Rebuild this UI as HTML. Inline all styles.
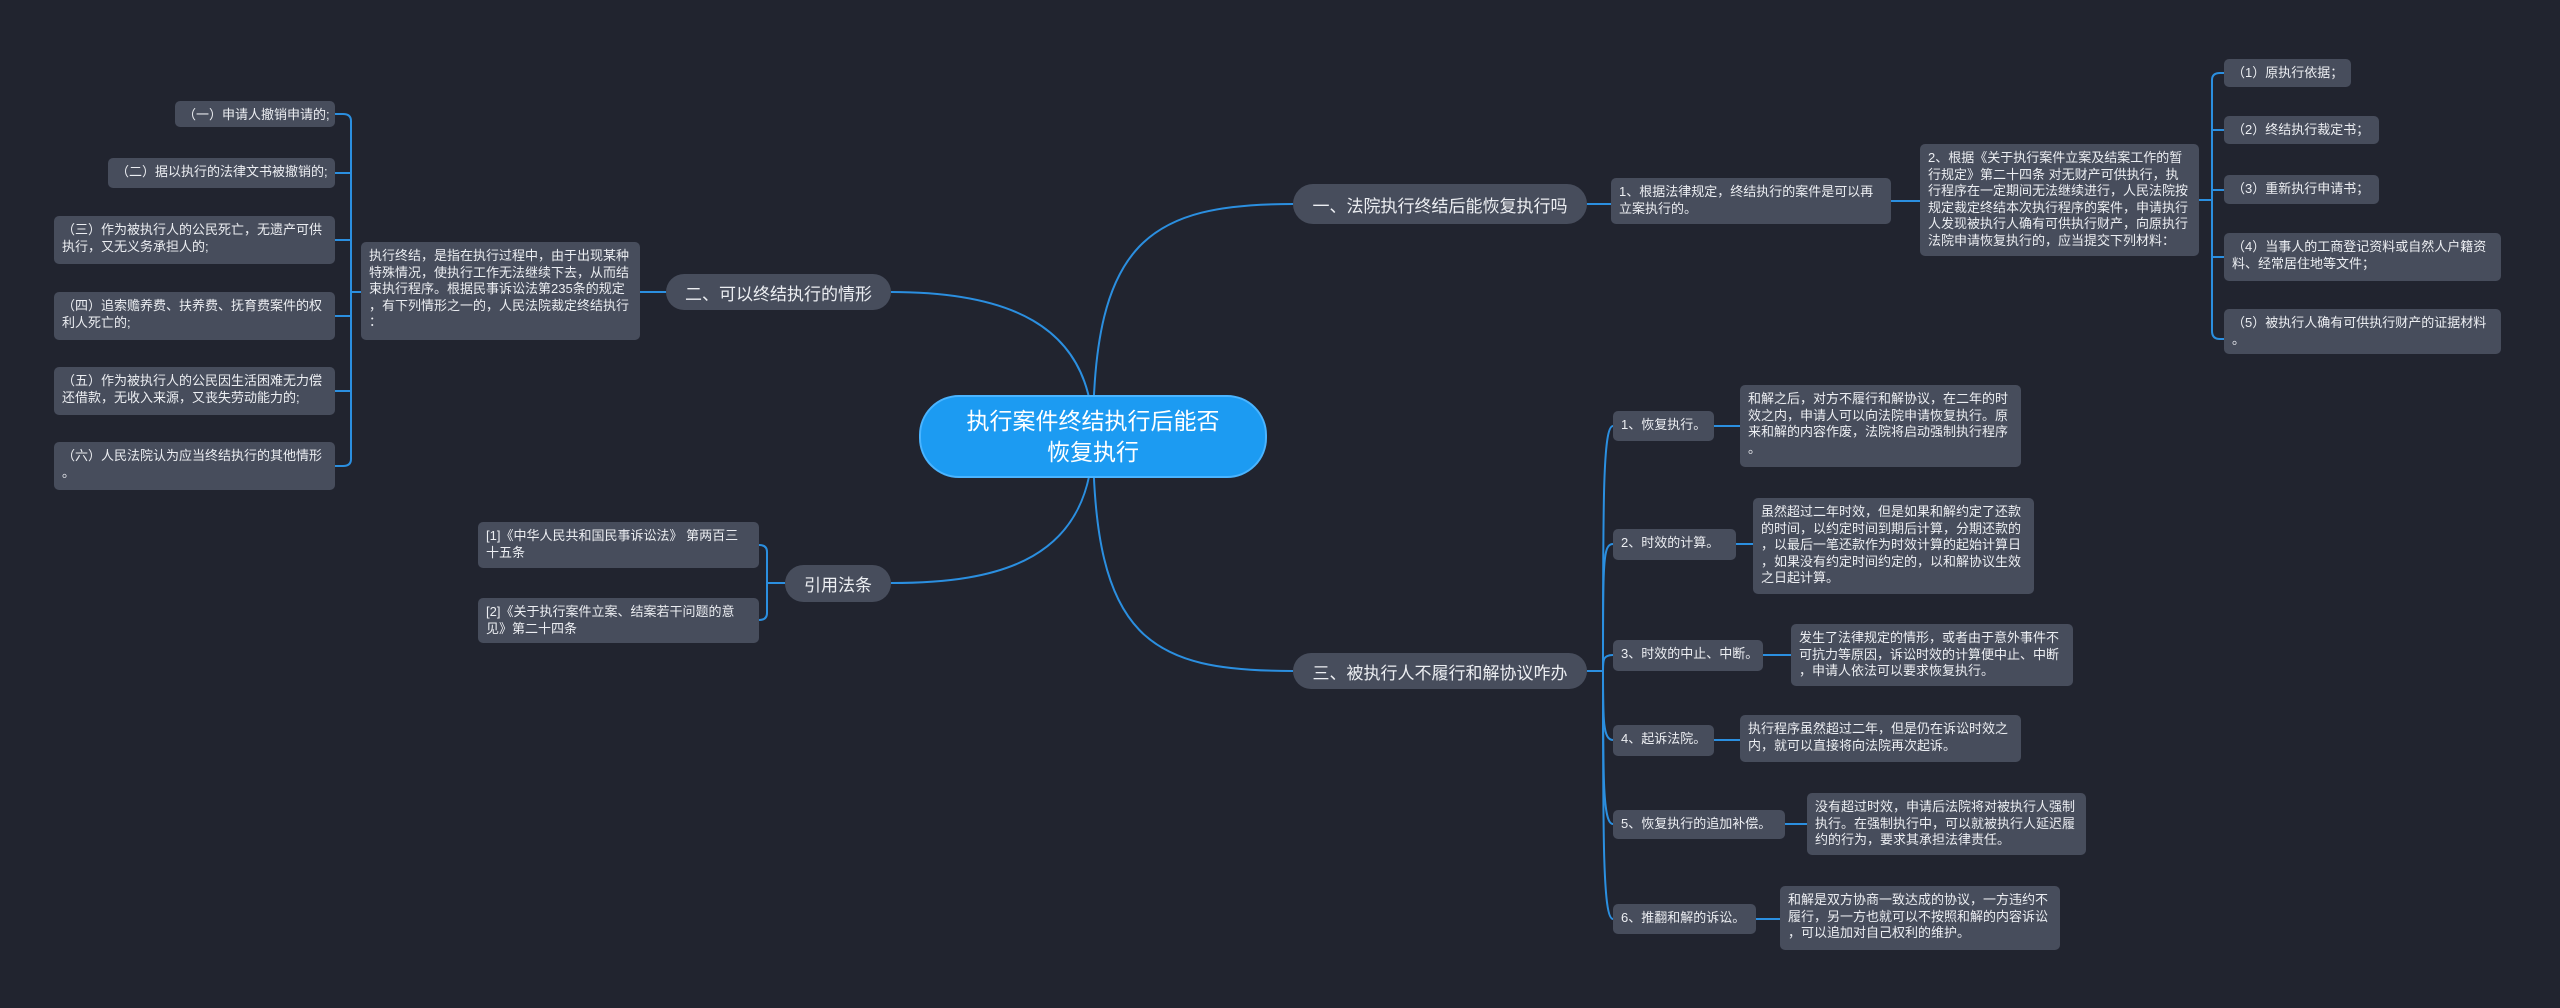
<!DOCTYPE html>
<html><head><meta charset="utf-8"><style>
html,body{margin:0;padding:0;}
body{width:2560px;height:1008px;background:#21242f;position:relative;overflow:hidden;font-family:"Liberation Sans","Noto Sans CJK SC",sans-serif;}
.b{position:absolute;background:#474d5c;color:#eceef2;font-size:13px;line-height:16.5px;border-radius:5px;box-sizing:border-box;padding:6px 8px;white-space:nowrap;}
.m{position:absolute;background:#474d5c;color:#eceef2;font-size:17px;border-radius:20px;box-sizing:border-box;display:flex;align-items:center;justify-content:center;white-space:nowrap;}
.c{position:absolute;background:#1c9bf2;color:#fff;font-size:23px;line-height:31px;border-radius:40px;box-sizing:border-box;display:flex;align-items:center;justify-content:center;text-align:center;border:2px solid #4ab4ff;}
svg{position:absolute;left:0;top:0;}
</style></head><body>
<svg width="2560" height="1008" fill="none" stroke="#2b8fe0" stroke-width="2">
<!-- central to main -->
<path d="M1093 436 C1093 240,1150 204,1293 204"/>
<path d="M1093 436 C1093 640,1150 671,1293 671"/>
<path d="M1093 436 C1093 320,1000 292,891 292"/>
<path d="M1093 436 C1093 560,1000 583,891 583"/>
<!-- 一 -->
<path d="M1587 204 H1611"/><path d="M1891 201 H1920"/>
<path d="M2199 200 H2212"/>
<path d="M2212 80 Q2212 73 2220 73 H2224 M2212 80 V331 Q2212 339 2220 339 H2224"/>
<path d="M2212 130 H2224 M2212 190 H2224 M2212 257 H2224"/>
<!-- 二 -->
<path d="M666 292 H640"/><path d="M361 292 H351"/>
<path d="M351 121 Q351 114 343 114 H335 M351 121 V459 Q351 466 343 466 H335"/>
<path d="M351 173 H335 M351 240 H335 M351 316 H335 M351 391 H335"/>
<!-- 引用 -->
<path d="M785 583 H767"/>
<path d="M767 552 Q767 545 759 545 M767 552 V613 Q767 620 759 620"/>
<!-- 三 -->
<path d="M1587 671 H1603"/>
<path d="M1603 671 C1603 500,1603 426,1613 426"/>
<path d="M1603 671 C1603 560,1603 544,1613 544"/>
<path d="M1603 671 C1603 660,1603 655,1613 655"/>
<path d="M1603 671 C1603 720,1603 740,1613 740"/>
<path d="M1603 671 C1603 780,1603 824,1613 824"/>
<path d="M1603 671 C1603 840,1603 919,1613 919"/>
<path d="M1714 426 H1740 M1736 544 H1753 M1763 655 H1791 M1714 740 H1740 M1785 824 H1807 M1756 919 H1780"/>
</svg>

<div class="c" style="left:919px;top:395px;width:348px;height:83px;">执行案件终结执行后能否<br>恢复执行</div>

<div class="m" style="left:1293px;top:184px;width:294px;height:40px;">一、法院执行终结后能恢复执行吗</div>
<div class="b" style="left:1611px;top:178px;width:280px;height:46px;">1、根据法律规定，终结执行的案件是可以再<br>立案执行的。</div>
<div class="b" style="left:1920px;top:144px;width:279px;height:112px;">2、根据《关于执行案件立案及结案工作的暂<br>行规定》第二十四条 对无财产可供执行，执<br>行程序在一定期间无法继续进行，人民法院按<br>规定裁定终结本次执行程序的案件，申请执行<br>人发现被执行人确有可供执行财产，向原执行<br>法院申请恢复执行的，应当提交下列材料：</div>
<div class="b" style="left:2224px;top:59px;width:127px;height:28px;">（1）原执行依据；</div>
<div class="b" style="left:2224px;top:116px;width:155px;height:28px;">（2）终结执行裁定书；</div>
<div class="b" style="left:2224px;top:175px;width:155px;height:29px;">（3）重新执行申请书；</div>
<div class="b" style="left:2224px;top:233px;width:277px;height:48px;">（4）当事人的工商登记资料或自然人户籍资<br>料、经常居住地等文件；</div>
<div class="b" style="left:2224px;top:309px;width:277px;height:45px;">（5）被执行人确有可供执行财产的证据材料<br>。</div>

<div class="m" style="left:666px;top:274px;width:225px;height:36px;">二、可以终结执行的情形</div>
<div class="b" style="left:361px;top:242px;width:279px;height:98px;">执行终结，是指在执行过程中，由于出现某种<br>特殊情况，使执行工作无法继续下去，从而结<br>束执行程序。根据民事诉讼法第235条的规定<br>，有下列情形之一的，人民法院裁定终结执行<br>：</div>
<div class="b" style="left:175px;top:101px;width:160px;height:26px;">（一）申请人撤销申请的;</div>
<div class="b" style="left:108px;top:158px;width:227px;height:30px;">（二）据以执行的法律文书被撤销的;</div>
<div class="b" style="left:54px;top:216px;width:281px;height:48px;">（三）作为被执行人的公民死亡，无遗产可供<br>执行，又无义务承担人的;</div>
<div class="b" style="left:54px;top:292px;width:281px;height:48px;">（四）追索赡养费、扶养费、抚育费案件的权<br>利人死亡的;</div>
<div class="b" style="left:54px;top:367px;width:281px;height:48px;">（五）作为被执行人的公民因生活困难无力偿<br>还借款，无收入来源，又丧失劳动能力的;</div>
<div class="b" style="left:54px;top:442px;width:281px;height:48px;">（六）人民法院认为应当终结执行的其他情形<br>。</div>

<div class="m" style="left:785px;top:565px;width:106px;height:37px;">引用法条</div>
<div class="b" style="left:478px;top:522px;width:281px;height:46px;">[1]《中华人民共和国民事诉讼法》 第两百三<br>十五条</div>
<div class="b" style="left:478px;top:598px;width:281px;height:45px;">[2]《关于执行案件立案、结案若干问题的意<br>见》第二十四条</div>

<div class="m" style="left:1293px;top:653px;width:294px;height:36px;">三、被执行人不履行和解协议咋办</div>
<div class="b" style="left:1613px;top:411px;width:101px;height:30px;">1、恢复执行。</div>
<div class="b" style="left:1740px;top:385px;width:281px;height:82px;">和解之后，对方不履行和解协议，在二年的时<br>效之内，申请人可以向法院申请恢复执行。原<br>来和解的内容作废，法院将启动强制执行程序<br>。</div>
<div class="b" style="left:1613px;top:529px;width:123px;height:31px;">2、时效的计算。</div>
<div class="b" style="left:1753px;top:498px;width:281px;height:96px;">虽然超过二年时效，但是如果和解约定了还款<br>的时间，以约定时间到期后计算，分期还款的<br>，以最后一笔还款作为时效计算的起始计算日<br>，如果没有约定时间约定的，以和解协议生效<br>之日起计算。</div>
<div class="b" style="left:1613px;top:640px;width:150px;height:31px;">3、时效的中止、中断。</div>
<div class="b" style="left:1791px;top:624px;width:282px;height:62px;">发生了法律规定的情形，或者由于意外事件不<br>可抗力等原因，诉讼时效的计算便中止、中断<br>，申请人依法可以要求恢复执行。</div>
<div class="b" style="left:1613px;top:725px;width:101px;height:31px;">4、起诉法院。</div>
<div class="b" style="left:1740px;top:715px;width:281px;height:47px;">执行程序虽然超过二年，但是仍在诉讼时效之<br>内，就可以直接将向法院再次起诉。</div>
<div class="b" style="left:1613px;top:810px;width:172px;height:29px;">5、恢复执行的追加补偿。</div>
<div class="b" style="left:1807px;top:793px;width:279px;height:62px;">没有超过时效，申请后法院将对被执行人强制<br>执行。在强制执行中，可以就被执行人延迟履<br>约的行为，要求其承担法律责任。</div>
<div class="b" style="left:1613px;top:904px;width:143px;height:30px;">6、推翻和解的诉讼。</div>
<div class="b" style="left:1780px;top:886px;width:280px;height:64px;">和解是双方协商一致达成的协议，一方违约不<br>履行，另一方也就可以不按照和解的内容诉讼<br>，可以追加对自己权利的维护。</div>
</body></html>
